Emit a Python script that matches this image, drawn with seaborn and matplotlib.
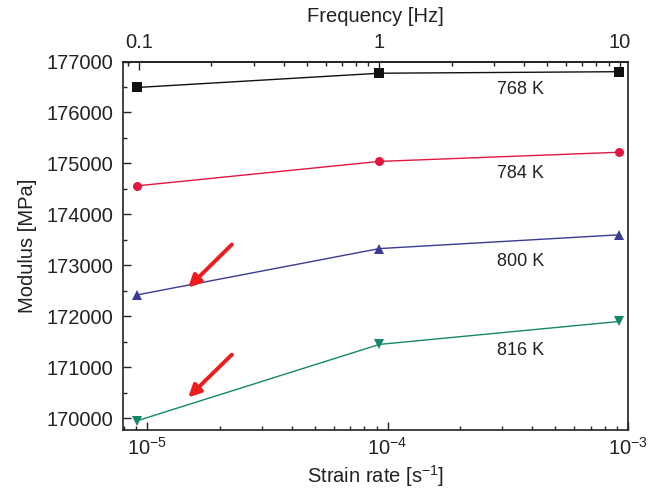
import matplotlib
matplotlib.use("Agg")
import matplotlib.pyplot as plt
import matplotlib.ticker as mticker
import numpy as np
import pandas as pd
import seaborn as sns

# Modulus vs. strain rate at four temperatures
strain_rate = [9.05e-6, 9.25e-5, 9.2e-4]          # s^-1
temperatures = ["768 K", "784 K", "800 K", "816 K"]
modulus_768 = [176490, 176770, 176800]            # MPa
modulus_784 = [174560, 175040, 175220]
modulus_800 = [172420, 173330, 173600]
modulus_816 = [169950, 171450, 171900]
label_y = [176460, 174800, 173070, 171340]
label_x = 3.57e-4
rate_per_hz = 9.25e-5                              # strain rate per unit frequency

series = [modulus_768, modulus_784, modulus_800, modulus_816]
df = pd.DataFrame({
    "rate": strain_rate * len(temperatures),
    "modulus": [v for s in series for v in s],
    "T": [t for t in temperatures for _ in strain_rate],
})

sns.set_theme(style="ticks")
plt.rcParams["font.family"] = ["Liberation Sans", "DejaVu Sans"]
plt.rcParams["mathtext.fontset"] = "custom"
plt.rcParams["mathtext.rm"] = "Liberation Sans"
plt.rcParams["mathtext.default"] = "regular"

palette = {"768 K": "#111111", "784 K": "#e3163f", "800 K": "#3b3b95", "816 K": "#14876a"}
markers = {"768 K": "s", "784 K": "o", "800 K": "^", "816 K": "v"}

fig = plt.figure(figsize=(6.56, 4.96), dpi=100)
ax = fig.add_axes([0.188, 0.133, 0.769, 0.743])

sns.lineplot(data=df, x="rate", y="modulus", hue="T", style="T",
             palette=palette, markers=markers, dashes=False,
             markersize=6.5, markeredgewidth=0, linewidth=1.0,
             legend=False, ax=ax)

ax.set_xscale("log")
ax.set_xlim(7.95e-6, 1.0e-3)
ax.set_ylim(169770, 177000)
ax.yaxis.set_major_locator(mticker.MultipleLocator(1000))
ax.yaxis.set_minor_locator(mticker.MultipleLocator(500))
ax.yaxis.set_major_formatter(mticker.FuncFormatter(lambda v, p: f"{int(round(v))}"))
ax.xaxis.set_major_locator(mticker.FixedLocator([1e-5, 1e-4, 1e-3]))
ax.xaxis.set_major_formatter(mticker.FixedFormatter([r"$10^{-5}$", r"$10^{-4}$", r"$10^{-3}$"]))
ax.xaxis.set_minor_locator(mticker.LogLocator(base=10, subs=np.arange(2, 10), numticks=20))
ax.xaxis.set_minor_formatter(mticker.NullFormatter())

for side in ["top", "right", "left", "bottom"]:
    ax.spines[side].set_visible(True)
    ax.spines[side].set_linewidth(1.2)
    ax.spines[side].set_color("#222222")

ax.tick_params(axis="both", which="major", direction="in", length=6, width=1,
               labelsize=14.5, colors="#222222", pad=7)
ax.tick_params(axis="both", which="minor", direction="in", length=3, width=1, colors="#222222")
ax.tick_params(axis="x", which="major", pad=5)
ax.tick_params(axis="y", right=False, which="both")

ax.set_xlabel(r"Strain rate [s$^{-1}$]", fontsize=14.5, color="#222222", labelpad=3)
ax.set_ylabel("Modulus [MPa]", fontsize=14.5, color="#222222", labelpad=7)

# Frequency axis on top
sec = ax.secondary_xaxis("top", functions=(lambda r: r / rate_per_hz, lambda f: f * rate_per_hz))
sec.xaxis.set_major_locator(mticker.FixedLocator([0.1, 1, 10]))
sec.xaxis.set_major_formatter(mticker.FixedFormatter(["0.1", "1", "10"]))
sec.xaxis.set_minor_locator(mticker.LogLocator(base=10, subs=np.arange(2, 10), numticks=20))
sec.xaxis.set_minor_formatter(mticker.NullFormatter())
sec.tick_params(axis="x", which="major", direction="in", length=6, width=1,
                labelsize=14.5, colors="#222222", pad=7)
sec.tick_params(axis="x", which="minor", direction="in", length=3, width=1, colors="#222222")
sec.spines["top"].set_linewidth(1.2)
sec.set_xlabel("Frequency [Hz]", fontsize=14.5, color="#222222", labelpad=8)

for t, y in zip(temperatures, label_y):
    ax.text(label_x, y, t, fontsize=13, ha="center", va="center", color="#222222")

# Red arrows pointing at the low-rate segments
arrows = [((2.25e-5, 173410), (1.48e-5, 172565)),
          ((2.25e-5, 171250), (1.48e-5, 170410))]
for tail, head in arrows:
    ax.annotate("", xy=head, xytext=tail,
                arrowprops=dict(arrowstyle="-|>,head_length=0.6,head_width=0.3",
                                color="#ee1c1c", lw=2.8, shrinkA=0, shrinkB=0))

fig.savefig("out.png", dpi=100)
